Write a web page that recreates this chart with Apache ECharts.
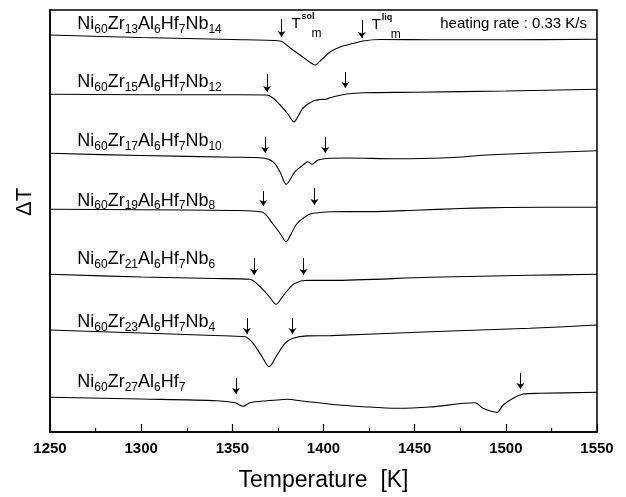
<!DOCTYPE html>
<html><head><meta charset="utf-8">
<script src="https://cdn.jsdelivr.net/npm/echarts@6/dist/echarts.min.js"></script>
<style>html,body{margin:0;padding:0;background:#fff}#c{width:626px;height:497px}</style>
</head><body><div id="c"></div>
<script>
// Composition (Ni60 Zr_x Al6 Hf7 Nb_y)
const zrContent = [13, 15, 17, 19, 21, 23, 27];
const nbContent = [14, 12, 10, 8, 6, 4, 0];

// DTA traces: [temperature K, ΔT (arbitrary units, offset per trace)]
const curveNb14 = [[1250,397],[1300,394.5],[1350,392.5],[1376.2,391],[1381.7,384],[1387.1,377],[1392,370.5],[1395.4,367],[1399,372.5],[1403.6,380],[1409.1,385],[1414.6,387.7],[1421.7,391],[1431,392.5],[1460,392.3],[1500,392.2],[1550,392.7]];
const curveNb12 = [[1250,337.7],[1300,337.3],[1350,337.2],[1369,337],[1372.3,334],[1376.2,327],[1380.5,318],[1383.8,310],[1386.5,317],[1388.8,324],[1394.3,331],[1398,332.5],[1401.5,332.8],[1404,334.5],[1412.9,338],[1421.7,339.3],[1450,339.8],[1500,341],[1550,342.7]];
const curveNb10 = [[1250,278.7],[1300,276.5],[1350,274.8],[1366.8,274],[1372.3,270.3],[1376.2,260],[1379.5,247.7],[1384.4,260.3],[1388.8,267],[1391.5,270.3],[1393.7,267.7],[1397,272],[1403.6,273.7],[1412.9,274],[1440.3,273.2],[1465,274],[1495.2,277.5],[1550,281.3]];
const curveNb8 = [[1250,222.7],[1300,222.3],[1350,221.5],[1366.3,220],[1372.3,208],[1376,199],[1379.5,190.3],[1382.5,199],[1385.5,208.5],[1391.5,217],[1394.3,218.7],[1403.6,220.3],[1425,220.4],[1450,221.8],[1475,223.5],[1500,224.5],[1550,224.8]];
const curveNb6 = [[1250,157.7],[1300,155],[1340,153.5],[1359.7,152.7],[1365.2,145.3],[1370,136],[1374,127.7],[1377,134],[1380,141],[1384.4,148.7],[1391,151.7],[1404,151.6],[1458.4,154.7],[1513.3,156.7],[1550,157.7]];
const curveNb4 = [[1250,102],[1300,99],[1340,96.5],[1357,95.3],[1361.4,88.7],[1366.3,75.3],[1370.1,65.3],[1374.5,77],[1378.9,88.7],[1383.3,93.7],[1391,96.1],[1404,96.4],[1458.4,100.3],[1513.3,103.7],[1550,107]];
const curveNb0 = [[1250,34.7],[1300,33],[1341.6,31.3],[1351.5,29.3],[1355.9,25.8],[1359.7,29.3],[1369,31.3],[1374.5,32],[1380,32.7],[1387.1,31.3],[1405.2,27.5],[1421.7,25.3],[1440.3,23.7],[1458.4,25],[1483.1,29.3],[1487.5,23.7],[1495.2,19.7],[1498.5,27],[1504,33.7],[1509.5,38],[1518.8,38.7],[1550,39.7]];
const curves = [curveNb14, curveNb12, curveNb10, curveNb8, curveNb6, curveNb4, curveNb0];

// Solidus / liquidus temperatures (arrows)
const solidusT  = [1377, 1369, 1368, 1367, 1362, 1358, 1352];
const liquidusT = [1421, 1412, 1401, 1395, 1389, 1383, 1508];
const solTail = [413, 358, 295, 241, 174, 114, 54];
const solTip  = [395, 340, 279, 226, 157, 98, 38];
const liqTail = [412, 360, 295, 244, 174, 114, 59];
const liqTip  = [394, 344, 279, 227, 157, 98, 43];

// Trace labels anchor (temperature, ΔT)
const labelT = 1265;
const labelDT = [407.5, 349.5, 290.5, 231, 172.5, 109.5, 49.5];

const xTicks = [1250, 1300, 1350, 1400, 1450, 1500, 1550];

const FONT = 'Liberation Sans, Arial, sans-serif';
const chart = echarts.init(document.getElementById('c'), null, {renderer: 'canvas'});

const series = curves.map((c, i) => ({
  type: 'line', data: c, showSymbol: false, smooth: 0.3,
  lineStyle: {color: '#000', width: 1.1}, silent: true, animation: false,
  emphasis: {disabled: true},
  markLine: {
    silent: true, animation: false, symbol: ['none', 'arrow'], symbolSize: 6,
    label: {show: false},
    lineStyle: {color: '#000', width: 1, type: 'solid'},
    emphasis: {disabled: true},
    data: [
      [{coord: [solidusT[i], solTail[i]]}, {coord: [solidusT[i], solTip[i]]}],
      [{coord: [liquidusT[i], liqTail[i]]}, {coord: [liquidusT[i], liqTip[i]]}]
    ]
  }
}));

chart.setOption({
  backgroundColor: '#fff',
  animation: false,
  grid: {left: 50, right: 29, top: 10, bottom: 65, show: true, borderColor: '#000', borderWidth: 1.5, backgroundColor: 'transparent'},
  xAxis: {
    type: 'value', min: xTicks[0], max: xTicks[xTicks.length - 1], interval: 50,
    name: 'Temperature  [K]', nameLocation: 'middle', nameGap: 37,
    nameTextStyle: {fontFamily: FONT, fontSize: 23, color: '#000'},
    axisLine: {show: true, lineStyle: {color: '#000', width: 1.5}},
    axisTick: {show: true, inside: true, length: 8, lineStyle: {color: '#000', width: 1.2}},
    minorTick: {show: true, splitNumber: 2, length: 4, lineStyle: {color: '#000', width: 1.2}},
    axisLabel: {fontFamily: FONT, fontSize: 15, fontWeight: 'bold', color: '#000', margin: 9,
      formatter: v => String(v)},
    splitLine: {show: false}
  },
  yAxis: {
    type: 'value', min: 0, max: 422,
    axisLine: {show: true, lineStyle: {color: '#000', width: 1.5}},
    axisTick: {show: false}, axisLabel: {show: false}, splitLine: {show: false}
  },
  series: series
});

const labels = zrContent.map((z, i) => 'Ni{s|60}Zr{s|' + z + '}Al{s|6}Hf{s|7}' + (nbContent[i] > 0 ? 'Nb{s|' + nbContent[i] + '}' : ''));

const graphics = [];
labels.forEach((txt, i) => {
  const p = chart.convertToPixel({gridIndex: 0}, [labelT, labelDT[i]]);
  graphics.push({
    type: 'text', x: p[0], y: p[1], silent: true,
    style: {
      text: txt, fontFamily: FONT, fontSize: 18, fill: '#000', lineHeight: 22,
      align: 'left', verticalAlign: 'middle', textAlign: 'left', textVerticalAlign: 'middle',
      rich: {s: {fontFamily: FONT, fontSize: 12, lineHeight: 12, verticalAlign: 'bottom', fill: '#000'}}
    }
  });
});

function tm(T, tail, sup) {
  const p = chart.convertToPixel({gridIndex: 0}, [T, tail]);
  const x0 = p[0] + 10, yc = p[1] + 5;
  const base = {fontFamily: FONT, fill: '#000', align: 'left', verticalAlign: 'middle', textAlign: 'left', textVerticalAlign: 'middle'};
  graphics.push({type: 'text', x: x0, y: yc, silent: true, style: Object.assign({}, base, {text: 'T', fontSize: 15})});
  graphics.push({type: 'text', x: x0 + 10, y: yc - 7, silent: true, style: Object.assign({}, base, {text: sup, fontSize: 9, fontWeight: 'bold'})});
  graphics.push({type: 'text', x: x0 + (sup === 'sol' ? 20 : 19), y: yc + 10, silent: true, style: Object.assign({}, base, {text: 'm', fontSize: 12})});
}
tm(solidusT[0], solTail[0], 'sol');
tm(liquidusT[0], liqTail[0], 'liq');

graphics.push({
  type: 'text', x: 587, y: 24, silent: true,
  style: {text: 'heating rate : 0.33 K/s', fontFamily: FONT, fontSize: 15, fill: '#000',
    align: 'right', verticalAlign: 'middle', textAlign: 'right', textVerticalAlign: 'middle'}
});
graphics.push({
  type: 'text', x: 25, y: 202, rotation: Math.PI / 2, silent: true,
  style: {text: 'ΔT', fontFamily: FONT, fontSize: 22, fill: '#000',
    align: 'center', verticalAlign: 'middle', textAlign: 'center', textVerticalAlign: 'middle'}
});

chart.setOption({graphic: {elements: graphics}});
</script>
</body></html>
